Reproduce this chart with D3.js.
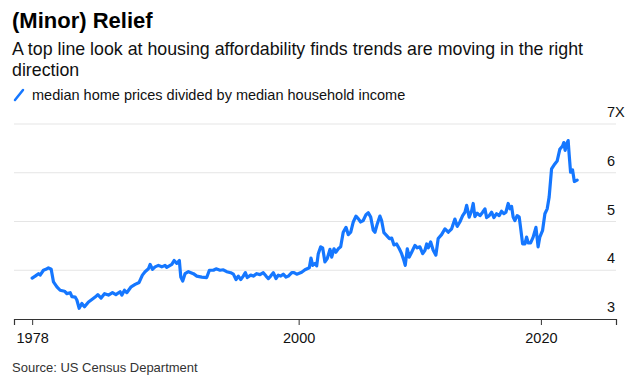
<!DOCTYPE html>
<html>
<head>
<meta charset="utf-8">
<script src="https://cdn.jsdelivr.net/npm/d3@7"></script>
<style>
  html, body { margin: 0; padding: 0; background: #fff; }
  svg { display: block; font-family: "Liberation Sans", Arial, Helvetica, sans-serif; }
</style>
</head>
<body>
<svg id="chart" width="640" height="380"></svg>
<script>
// ---- Data ----
const years = [
  1978.0, 1978.25, 1978.52, 1978.66, 1978.93, 1979.13, 1979.34, 1979.57, 1979.76, 1980.04,
  1980.31, 1980.67, 1980.86, 1981.14, 1981.28, 1981.55, 1981.69, 1981.88, 1982.10, 1982.32,
  1982.65, 1982.93, 1983.20, 1983.42, 1983.69, 1983.97, 1984.30, 1984.63, 1984.91, 1985.26,
  1985.40, 1985.62, 1985.81, 1986.17, 1986.50, 1986.83, 1987.10, 1987.32, 1987.60, 1987.74,
  1987.93, 1988.15, 1988.42, 1988.70, 1988.97, 1989.11, 1989.53, 1989.72, 1989.94, 1990.15,
  1990.27, 1990.43, 1990.62, 1990.90, 1991.31, 1991.59, 1992.00, 1992.41, 1992.63, 1992.96,
  1993.18, 1993.51, 1993.78, 1994.06, 1994.39, 1994.61, 1994.83, 1995.02, 1995.22, 1995.43,
  1995.60, 1995.76, 1996.04, 1996.26, 1996.54, 1996.81, 1997.08, 1997.31, 1997.50, 1997.69,
  1997.91, 1998.13, 1998.32, 1998.52, 1998.73, 1998.96, 1999.15, 1999.43, 1999.62, 1999.84,
  2000.05, 2000.25, 2000.52, 2000.88, 2001.02, 2001.16, 2001.35, 2001.49, 2001.62, 2001.82,
  2001.98, 2002.17, 2002.36, 2002.59, 2002.73, 2002.92, 2003.08, 2003.27, 2003.47, 2003.68,
  2003.91, 2004.10, 2004.30, 2004.51, 2004.73, 2004.92, 2005.12, 2005.33, 2005.56, 2005.75,
  2005.95, 2006.16, 2006.30, 2006.49, 2006.71, 2006.85, 2007.04, 2007.27, 2007.48, 2007.68,
  2007.87, 2008.09, 2008.31, 2008.50, 2008.69, 2008.80, 2008.97, 2009.13, 2009.33, 2009.60,
  2009.79, 2010.01, 2010.24, 2010.43, 2010.57, 2010.70, 2010.90, 2011.11, 2011.33, 2011.52,
  2011.80, 2012.08, 2012.35, 2012.63, 2012.90, 2013.09, 2013.31, 2013.54, 2013.73, 2013.87,
  2014.08, 2014.28, 2014.41, 2014.55, 2014.74, 2014.97, 2015.19, 2015.38, 2015.52, 2015.73,
  2015.93, 2016.12, 2016.34, 2016.56, 2016.75, 2016.94, 2017.11, 2017.30, 2017.44, 2017.58,
  2017.71, 2017.85, 2018.04, 2018.21, 2018.32, 2018.49, 2018.68, 2018.82, 2018.95, 2019.15,
  2019.36, 2019.59, 2019.77, 2019.91, 2020.14, 2020.33, 2020.52, 2020.68, 2020.88, 2021.15,
  2021.34, 2021.56, 2021.79, 2021.89, 2022.00, 2022.12, 2022.25, 2022.33, 2022.45, 2022.61,
  2022.76, 2022.99
];
const ratio = [
  3.84, 3.88, 3.93, 3.90, 4.00, 4.02, 4.05, 4.02, 3.76, 3.66,
  3.59, 3.57, 3.52, 3.54, 3.46, 3.45, 3.39, 3.22, 3.32, 3.25,
  3.35, 3.40, 3.45, 3.50, 3.43, 3.52, 3.49, 3.54, 3.50, 3.56,
  3.49, 3.59, 3.54, 3.66, 3.71, 3.75, 3.90, 3.97, 4.03, 4.12,
  4.02, 4.07, 4.10, 4.07, 4.10, 4.06, 4.12, 4.20, 4.14, 4.20,
  3.86, 3.78, 3.93, 3.97, 3.93, 3.88, 3.86, 3.85, 4.00, 4.00,
  4.03, 4.00, 4.01, 3.97, 3.95, 3.92, 3.81, 3.88, 3.81, 3.88,
  3.95, 3.85, 3.90, 3.88, 3.93, 3.91, 3.95, 3.88, 3.83, 3.88,
  3.95, 3.83, 3.90, 3.88, 3.92, 3.86, 3.88, 3.95, 3.95, 3.92,
  3.94, 3.96, 4.01, 4.05, 4.25, 4.10, 4.14, 4.09, 4.34, 4.48,
  4.46, 4.17, 4.24, 4.43, 4.27, 4.44, 4.37, 4.44, 4.48, 4.78,
  4.88, 4.73, 4.78, 4.99, 5.11, 5.06, 4.99, 5.02, 5.14, 5.18,
  5.09, 4.82, 4.78, 4.95, 5.11, 5.02, 4.77, 4.71, 4.65, 4.66,
  4.52, 4.54, 4.44, 4.34, 4.20, 4.10, 4.44, 4.27, 4.37, 4.51,
  4.46, 4.48, 4.34, 4.41, 4.54, 4.46, 4.58, 4.41, 4.31, 4.65,
  4.73, 4.85, 4.78, 4.85, 5.05, 4.90, 4.99, 5.12, 5.19, 5.33,
  5.09, 5.22, 5.37, 5.10, 5.17, 5.12, 5.19, 5.26, 5.08, 5.12,
  5.19, 5.08, 5.16, 5.12, 5.21, 5.16, 5.19, 5.37, 5.26, 5.31,
  5.09, 5.02, 5.12, 5.09, 4.88, 4.54, 4.54, 4.68, 4.56, 4.56,
  4.68, 4.88, 4.48, 4.68, 4.82, 5.16, 5.26, 5.50, 6.08, 6.18,
  6.24, 6.48, 6.55, 6.62, 6.46, 6.59, 6.66, 6.38, 6.01, 6.06,
  5.82, 5.85
];
const xTicks = [1978, 2000, 2020];
const yTicks = [3, 4, 5, 6, 7];
const yTickLabels = ["3", "4", "5", "6", "7X"];

const titleText = "(Minor) Relief";
const subtitleLines = [
  "A top line look at housing affordability finds trends are moving in the right",
  "direction"
];
const legendText = "median home prices divided by median household income";
const sourceText = "Source: US Census Department";

// ---- Drawing ----
const svg = d3.select("#chart");
const blue = "#1577ff";

const x = d3.scaleLinear().domain([1976.5, 2026.2]).range([14, 616]);
const y = d3.scaleLinear().domain([3, 7]).range([319, 124]);

// titles
svg.append("text").attr("x", 12).attr("y", 28)
  .attr("font-size", 22).attr("font-weight", "bold").attr("fill", "#000")
  .text(titleText);
subtitleLines.forEach((t, i) => {
  svg.append("text").attr("x", 12).attr("y", 55 + i * 21)
    .attr("font-size", 17.8).attr("fill", "#111").text(t);
});

// legend
svg.append("line").attr("x1", 15).attr("y1", 100).attr("x2", 23).attr("y2", 90)
  .attr("stroke", blue).attr("stroke-width", 2.5).attr("stroke-linecap", "round");
svg.append("text").attr("x", 32).attr("y", 99.5)
  .attr("font-size", 14.5).attr("fill", "#111").text(legendText);

// gridlines
svg.append("g").selectAll("line").data(yTicks.filter(d => d > 3)).join("line")
  .attr("x1", 14).attr("x2", 616)
  .attr("y1", d => y(d)).attr("y2", d => y(d))
  .attr("stroke", "#e5e5e5").attr("stroke-width", 1);

// y labels
svg.append("g").selectAll("text").data(yTicks).join("text")
  .attr("x", 607).attr("y", d => y(d) - 7)
  .attr("font-size", 14.5).attr("fill", "#111")
  .text((d, i) => yTickLabels[i]);

// x axis
const xAxis = d3.axisBottom(x).tickValues(xTicks).tickFormat(d3.format("d"))
  .tickSize(6).tickPadding(8);
const gx = svg.append("g").attr("transform", `translate(0,${y(3)})`).call(xAxis);
gx.select(".domain").attr("stroke", "#333").attr("stroke-width", 1.2);
gx.selectAll(".tick line").attr("stroke", "#333");
gx.selectAll(".tick text").attr("font-size", 14.5).attr("fill", "#111")
  .attr("font-family", "Liberation Sans, Arial, sans-serif");

// line
const pts = years.map((yr, i) => [yr, ratio[i]]);
svg.append("path").datum(pts)
  .attr("fill", "none").attr("stroke", blue).attr("stroke-width", 3.2)
  .attr("stroke-linejoin", "round").attr("stroke-linecap", "round")
  .attr("d", d3.line().x(d => x(d[0])).y(d => y(d[1])));

// source
svg.append("text").attr("x", 12).attr("y", 372)
  .attr("font-size", 13).attr("fill", "#333").text(sourceText);
</script>
</body>
</html>
